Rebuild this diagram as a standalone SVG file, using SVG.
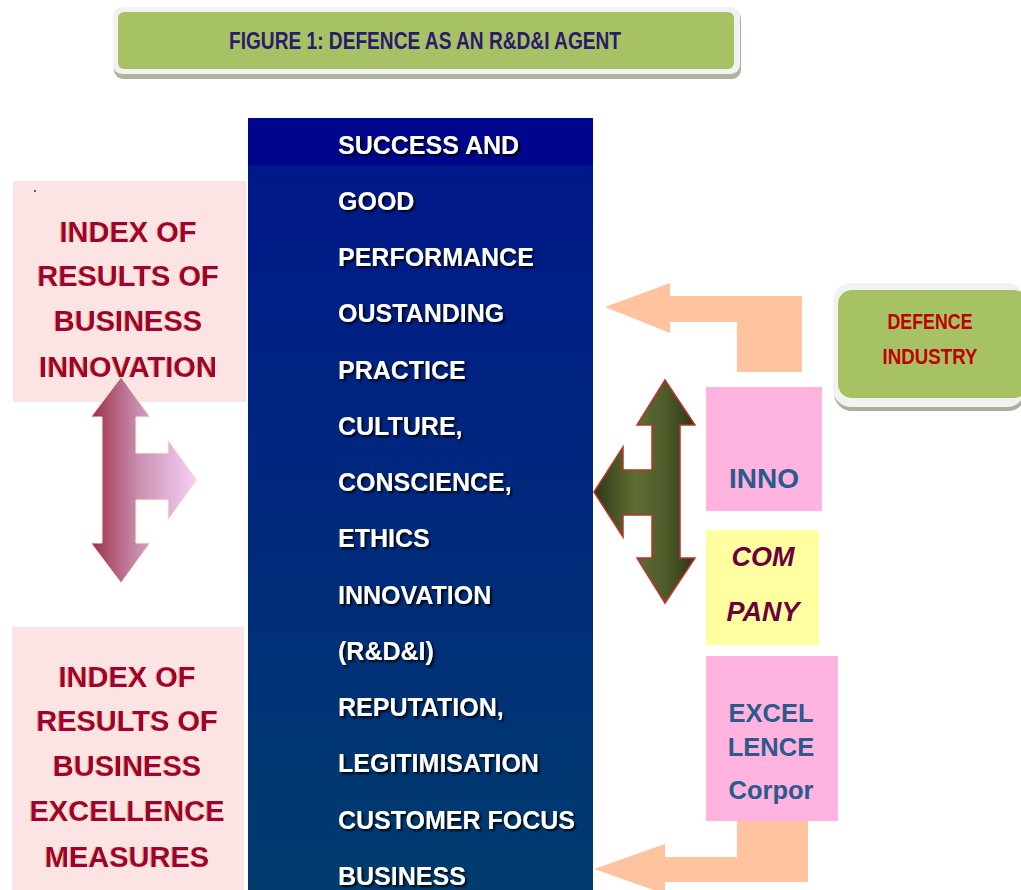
<svg xmlns="http://www.w3.org/2000/svg" width="1021" height="890" viewBox="0 0 1021 890">
<defs>
<linearGradient id="colGrad" x1="0" y1="0" x2="0" y2="1">
<stop offset="0" stop-color="#00168C"/>
<stop offset="1" stop-color="#003C6E"/>
</linearGradient>
<linearGradient id="pinkArrow" gradientUnits="userSpaceOnUse" x1="91" y1="0" x2="197" y2="0">
<stop offset="0" stop-color="#9E2E48"/>
<stop offset="0.45" stop-color="#C890B0"/>
<stop offset="1" stop-color="#FAD0F8"/>
</linearGradient>
<linearGradient id="oliveArrow" gradientUnits="userSpaceOnUse" x1="594" y1="0" x2="695" y2="0">
<stop offset="0" stop-color="#2E3816"/>
<stop offset="0.4" stop-color="#5E6E34"/>
<stop offset="0.7" stop-color="#4E5C2A"/>
<stop offset="1" stop-color="#2C3614"/>
</linearGradient>
<filter id="shadow" x="-10%" y="-30%" width="130%" height="170%">
<feDropShadow dx="2" dy="2" stdDeviation="1" flood-color="#000000" flood-opacity="0.9"/>
</filter>
<filter id="glow" x="-10%" y="-30%" width="130%" height="170%">
<feDropShadow dx="-1" dy="0" stdDeviation="0.6" flood-color="#F0A040" flood-opacity="0.9"/>
</filter>
<style>
.col{font-family:"Liberation Sans",Arial,sans-serif;font-weight:bold;font-size:25px;fill:#FFFFFF;filter:url(#shadow);}
.idx{font-family:"Liberation Sans",Arial,sans-serif;font-weight:bold;font-size:29px;fill:#9E0038;text-anchor:middle;filter:url(#glow);}
.blu{font-family:"Liberation Sans",Arial,sans-serif;font-weight:bold;fill:#2B5A8C;text-anchor:middle;}
.com{font-family:"Liberation Sans",Arial,sans-serif;font-weight:bold;font-style:italic;font-size:27px;fill:#6B0040;text-anchor:middle;}
.cal{font-family:"Liberation Sans",Arial,sans-serif;font-weight:bold;text-anchor:middle;}
.peach{fill:#FFC3A0;}
</style>
</defs>
<rect width="1021" height="890" fill="#FFFFFF"/>

<g id="title">
<rect x="114" y="10" width="627" height="69" rx="9" fill="#AEB59E"/>
<rect x="113" y="7" width="627" height="67" rx="9" fill="#F2F2F2"/>
<rect x="118" y="12" width="616" height="57" rx="6" fill="#A6C264"/>
<text x="425" y="49" class="cal" font-size="24" fill="#2B1B6E" textLength="392" lengthAdjust="spacingAndGlyphs">FIGURE 1: DEFENCE AS AN R&amp;D&amp;I AGENT</text>
</g>

<g id="column">
<rect x="248" y="118" width="345" height="772" fill="url(#colGrad)"/>
<rect x="248" y="118" width="345" height="47" fill="#00068C"/>
<text class="col" x="338" y="154">SUCCESS AND</text>
<text class="col" x="338" y="210">GOOD</text>
<text class="col" x="338" y="266">PERFORMANCE</text>
<text class="col" x="338" y="322">OUSTANDING</text>
<text class="col" x="338" y="379">PRACTICE</text>
<text class="col" x="338" y="435">CULTURE,</text>
<text class="col" x="338" y="491">CONSCIENCE,</text>
<text class="col" x="338" y="547">ETHICS</text>
<text class="col" x="338" y="604">INNOVATION</text>
<text class="col" x="338" y="660">(R&amp;D&amp;I)</text>
<text class="col" x="338" y="716">REPUTATION,</text>
<text class="col" x="338" y="772">LEGITIMISATION</text>
<text class="col" x="338" y="829">CUSTOMER FOCUS</text>
<text class="col" x="338" y="885">BUSINESS</text>
</g>

<g id="index-innovation">
<rect x="13" y="181" width="233" height="221" fill="#FDE4E4"/>
<circle cx="35" cy="191" r="1" fill="#333333"/>
<text class="idx" x="128" y="242">INDEX OF</text>
<text class="idx" x="128" y="286">RESULTS OF</text>
<text class="idx" x="128" y="331">BUSINESS</text>
<text class="idx" x="128" y="377">INNOVATION</text>
</g>

<g id="index-excellence">
<rect x="12" y="627" width="232" height="263" fill="#FDE4E4"/>
<text class="idx" x="127" y="687">INDEX OF</text>
<text class="idx" x="127" y="731">RESULTS OF</text>
<text class="idx" x="127" y="776">BUSINESS</text>
<text class="idx" x="127" y="821">EXCELLENCE</text>
<text class="idx" x="127" y="867">MEASURES</text>
</g>

<g id="defence-industry">
<rect x="834" y="287" width="192" height="124" rx="18" fill="#A9B09C"/>
<rect x="833" y="283" width="192" height="124" rx="18" fill="#F2F2F2"/>
<rect x="838" y="290" width="190" height="108" rx="14" fill="#A6C264"/>
<text class="cal" x="930" y="329" font-size="22" fill="#C00000" textLength="85" lengthAdjust="spacingAndGlyphs" style="font-weight:600">DEFENCE</text>
<text class="cal" x="930" y="364" font-size="22" fill="#C00000" textLength="95" lengthAdjust="spacingAndGlyphs" style="font-weight:600">INDUSTRY</text>
</g>

<g id="inno">
<rect x="706" y="387" width="116" height="124" fill="#FFB3DE"/>
<text class="blu" x="764" y="488" font-size="28">INNO</text>
</g>

<g id="company">
<rect x="706" y="530" width="113" height="115" fill="#FFFF9F"/>
<text class="com" x="763" y="566">COM</text>
<text class="com" x="763" y="621">PANY</text>
</g>

<g id="excellence">
<rect x="706" y="656" width="132" height="165" fill="#FFB3DE"/>
<text class="blu" x="771" y="722" font-size="25.5">EXCEL</text>
<text class="blu" x="771" y="756" font-size="25.5">LENCE</text>
<text class="blu" x="771" y="799" font-size="25.5">Corpor</text>
</g>

<g id="connectors">
<polygon class="peach" points="605,307 670,283 670,296 802,296 802,372 737,372 737,322 670,322 670,333"/>
<polygon class="peach" points="594,869 665,844 665,857 737,857 737,821 808,821 808,882 665,882 665,894"/>
<polygon fill="url(#oliveArrow)" stroke="#C0302A" stroke-width="1.5" stroke-linejoin="miter" points="665,380 695,425 680,425 680,558 695,558 665,603 637,558 652,558 652,515 623,515 623,537 594,492 623,447 623,470 652,470 652,425 637,425"/>
<polygon fill="url(#pinkArrow)" stroke="#FFF0C8" stroke-width="1" points="121,377 150,417 136,417 136,453 168,453 168,440 197,480 168,520 168,500 136,500 136,543 150,543 121,583 91,543 102,543 102,417 91,417"/>
</g>
</svg>
